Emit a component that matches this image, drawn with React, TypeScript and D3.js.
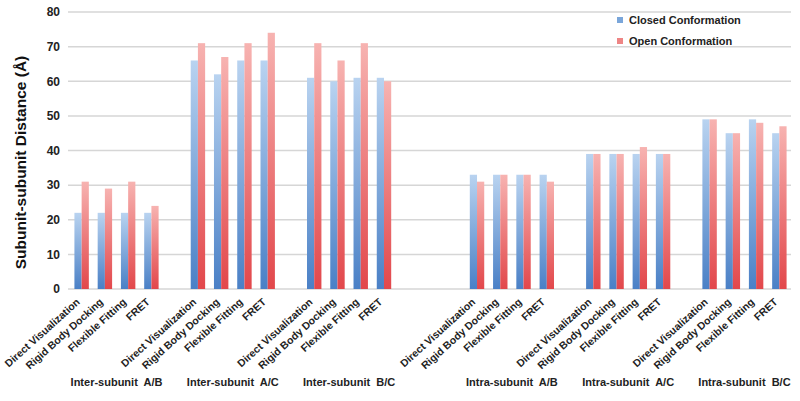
import React from "react";
import * as d3 from "d3";

const methods = ["Direct Visualization", "Rigid Body Docking", "Flexible Fitting", "FRET"];
const groups = [
  "Inter-subunit  A/B",
  "Inter-subunit  A/C",
  "Inter-subunit  B/C",
  "Intra-subunit  A/B",
  "Intra-subunit  A/C",
  "Intra-subunit  B/C",
];
// empty slots placed after each group (before the next)
const gapsAfter = [1, 1, 3, 1, 1, 0];
const closedValues = [
  [22, 22, 22, 22],
  [66, 62, 66, 66],
  [61, 60, 61, 61],
  [33, 33, 33, 33],
  [39, 39, 39, 39],
  [49, 45, 49, 45],
];
const openValues = [
  [31, 29, 31, 24],
  [71, 67, 71, 74],
  [71, 66, 71, 60],
  [31, 33, 33, 31],
  [39, 39, 41, 39],
  [49, 45, 48, 47],
];
const seriesNames = ["Closed Conformation", "Open Conformation"];
const yTicks = [0, 10, 20, 30, 40, 50, 60, 70, 80];

const W = 800;
const H = 401;
const FONT = "'Liberation Sans', Arial, Helvetica, sans-serif";

export default function App() {
  const slots: string[] = [];
  const items: { key: string; g: number; m: number }[] = [];
  groups.forEach((g, gi) => {
    methods.forEach((m, mi) => {
      const key = `${gi}-${mi}`;
      slots.push(key);
      items.push({ key, g: gi, m: mi });
    });
    for (let k = 0; k < gapsAfter[gi]; k++) slots.push(`gap-${gi}-${k}`);
  });

  const x = d3.scaleBand<string>().domain(slots).range([70, 791]).padding(0);
  const y = d3.scaleLinear().domain([0, 80]).range([289, 12]);
  const bw = x.bandwidth();
  const barW = bw * 0.31;

  return (
    <svg width={W} height={H} style={{ display: "block", position: "absolute", left: 0, top: 0 }} fontFamily={FONT}>
      <defs>
        <linearGradient id="gBlue" x1="0" y1="0" x2="0" y2="1">
          <stop offset="0%" stopColor="#b9d3f0" />
          <stop offset="100%" stopColor="#4a80c6" />
        </linearGradient>
        <linearGradient id="gRed" x1="0" y1="0" x2="0" y2="1">
          <stop offset="0%" stopColor="#f7b3b1" />
          <stop offset="100%" stopColor="#e2474b" />
        </linearGradient>
      </defs>
      <rect x={0} y={0} width={W} height={H} fill="#fff" />
      {yTicks.map((t) => (
        <line key={t} x1={68} x2={791} y1={y(t)} y2={y(t)} stroke="#d6d6d6" strokeWidth={1.5} />
      ))}
      {yTicks.map((t) => (
        <text key={"l" + t} x={60} y={y(t)} dy="0.36em" textAnchor="end" fontSize={12} fontWeight="bold" fill="#222">
          {t}
        </text>
      ))}
      <text
        transform={`translate(26,${(y(0) + y(80)) / 2 + 12}) rotate(-90)`}
        textAnchor="middle"
        fontSize={15.5}
        fontWeight="bold"
        fill="#111"
      >
        Subunit-subunit Distance (Å)
      </text>
      {items.map((it) => {
        const cx = (x(it.key) as number) + bw / 2;
        const c = closedValues[it.g][it.m];
        const o = openValues[it.g][it.m];
        return (
          <g key={it.key}>
            <rect x={cx - barW} y={y(c)} width={barW} height={y(0) - y(c)} fill="url(#gBlue)" />
            <rect x={cx} y={y(o)} width={barW} height={y(0) - y(o)} fill="url(#gRed)" />
          </g>
        );
      })}
      {items.map((it) => {
        const cx = (x(it.key) as number) + bw / 2;
        return (
          <g key={"x" + it.key} transform={`translate(${cx - 1},${303})`}>
            <text transform="rotate(-42)" textAnchor="end" fontSize={10.5} fontWeight="bold" fill="#222">
              {methods[it.m]}
            </text>
          </g>
        );
      })}
      {groups.map((g, gi) => {
        const a = (x(`${gi}-0`) as number) + bw / 2;
        const b = (x(`${gi}-3`) as number) + bw / 2;
        return (
          <text
            key={"g" + gi}
            x={(a + b) / 2}
            y={386}
            textAnchor="middle"
            fontSize={11}
            fontWeight="bold"
            fill="#222"
            style={{ whiteSpace: "pre" }}
          >
            {g}
          </text>
        );
      })}
      {seriesNames.map((s, i) => (
        <g key={s} transform={`translate(617,${17 + i * 21})`}>
          <rect x={0} y={0} width={6} height={6} fill={i === 0 ? "#7aa6da" : "#ee8585"} />
          <text x={12} y={7} fontSize={11} fontWeight="bold" fill="#222">
            {s}
          </text>
        </g>
      ))}
    </svg>
  );
}
